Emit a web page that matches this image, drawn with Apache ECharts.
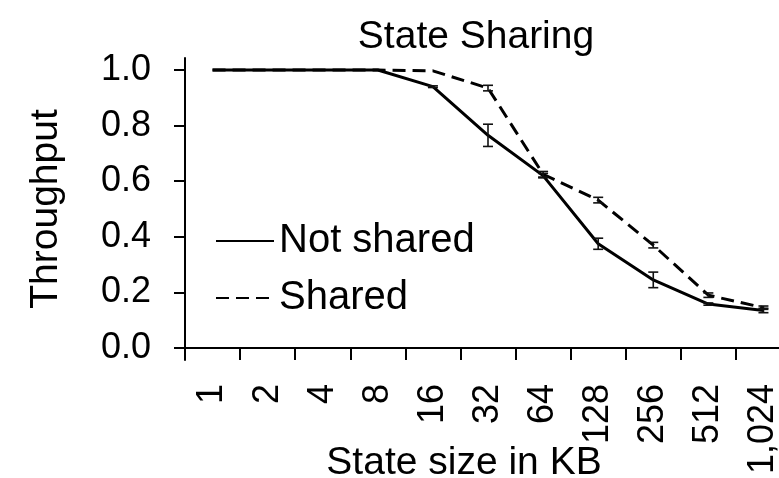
<!DOCTYPE html>
<html>
<head>
<meta charset="utf-8">
<script src="https://cdn.jsdelivr.net/npm/echarts@6/dist/echarts.min.js"></script>
<style>
  html, body { margin: 0; padding: 0; background: #ffffff; }
  #chart { width: 779px; height: 478px; }
</style>
</head>
<body>
<div id="chart"></div>
<script>
// State size (KB) categories and measured throughput
const categories = ['1', '2', '4', '8', '16', '32', '64', '128', '256', '512', '1,024'];
const notShared = [1.0, 1.0, 1.0, 1.0, 0.94, 0.765, 0.62, 0.375, 0.245, 0.158, 0.135];
const notSharedErr = [0, 0, 0, 0, 0.003, 0.04, 0.008, 0.02, 0.028, 0.004, 0.008];
const shared = [1.0, 1.0, 1.0, 1.0, 0.997, 0.935, 0.625, 0.532, 0.37, 0.19, 0.145];
const sharedErr = [0, 0, 0, 0, 0, 0.01, 0.01, 0.01, 0.01, 0.008, 0.006];
const yTicks = [0, 0.2, 0.4, 0.6, 0.8, 1.0];

const FONT = 'Liberation Sans';

function errorData(values, errs) {
  return values.map((v, i) => [i, v, errs[i]]);
}

// Draws an I-shaped error bar around each point
function renderErrorBar(params, api) {
  const i = api.value(0);
  const v = api.value(1);
  const e = api.value(2);
  if (!e) return null;
  const hi = api.coord([i, v + e]);
  const lo = api.coord([i, v - e]);
  const w = 5;
  const style = { stroke: '#111', lineWidth: 1.6 };
  return {
    type: 'group',
    children: [
      { type: 'line', shape: { x1: hi[0], y1: hi[1], x2: lo[0], y2: lo[1] }, style },
      { type: 'line', shape: { x1: hi[0] - w, y1: hi[1], x2: hi[0] + w, y2: hi[1] }, style },
      { type: 'line', shape: { x1: lo[0] - w, y1: lo[1], x2: lo[0] + w, y2: lo[1] }, style }
    ]
  };
}

const chart = echarts.init(document.getElementById('chart'), null, { renderer: 'canvas' });

chart.setOption({
  animation: false,
  backgroundColor: '#ffffff',
  textStyle: { fontFamily: FONT, color: '#000' },
  title: {
    text: 'State Sharing',
    left: 471,
    top: 13,
    textAlign: 'center',
    textStyle: { fontFamily: FONT, fontSize: 39, fontWeight: 'normal', color: '#000' }
  },
  legend: {
    data: ['Not shared', 'Shared'],
    orient: 'vertical',
    left: 210,
    top: 216,
    itemWidth: 58,
    itemHeight: 2,
    itemGap: 17,
    itemStyle: { opacity: 0 },
    textStyle: { fontFamily: FONT, fontSize: 40, color: '#000', padding: [13, 0, 0, 0] }
  },
  grid: {
    left: 185,
    top: 58,
    width: 606,
    height: 302,
    containLabel: false,
    outerBoundsMode: 'none'
  },
  xAxis: {
    type: 'category',
    data: categories,
    boundaryGap: true,
    name: 'State size in KB',
    nameLocation: 'middle',
    nameGap: 84,
    nameMoveOverlap: false,
    nameTextStyle: { fontFamily: FONT, fontSize: 39, color: '#000', padding: [0, 48, 0, 0] },
    axisLine: { onZero: true, lineStyle: { color: '#000', width: 2 } },
    axisTick: { show: true, length: 12, inside: false, lineStyle: { color: '#000', width: 2 } },
    axisLabel: {
      interval: 0,
      rotate: 90,
      margin: 24,
      fontFamily: FONT,
      fontSize: 36,
      color: '#000'
    },
    splitLine: { show: false }
  },
  yAxis: {
    type: 'value',
    min: -0.0432,
    max: 1.0432,
    name: 'Throughput',
    nameLocation: 'middle',
    nameGap: 119,
    nameMoveOverlap: false,
    nameTextStyle: { fontFamily: FONT, fontSize: 39, color: '#000' },
    axisLine: { show: true, lineStyle: { color: '#000', width: 2 } },
    axisTick: { show: true, length: 11, customValues: yTicks, lineStyle: { color: '#000', width: 2 } },
    axisLabel: {
      customValues: yTicks,
      margin: 34,
      fontFamily: FONT,
      fontSize: 36,
      color: '#000',
      formatter: v => v.toFixed(1)
    },
    splitLine: { show: false }
  },
  series: [
    {
      name: 'Not shared',
      type: 'line',
      data: notShared,
      symbol: 'none',
      color: '#000',
      lineStyle: { color: '#000', width: 3, type: 'solid' },
      z: 3
    },
    {
      name: 'Shared',
      type: 'line',
      data: shared,
      symbol: 'none',
      color: '#000',
      lineStyle: { color: '#000', width: 3, type: [13, 7] },
      z: 3
    },
    {
      name: 'Not shared error',
      type: 'custom',
      data: errorData(notShared, notSharedErr),
      renderItem: renderErrorBar,
      z: 4
    },
    {
      name: 'Shared error',
      type: 'custom',
      data: errorData(shared, sharedErr),
      renderItem: renderErrorBar,
      z: 4
    }
  ]
});
</script>
</body>
</html>
